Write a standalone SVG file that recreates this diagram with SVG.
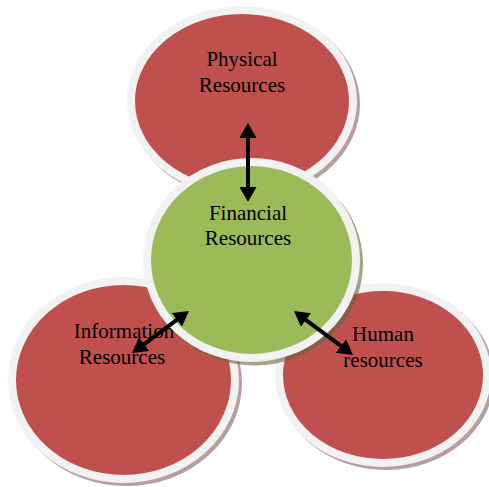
<svg xmlns="http://www.w3.org/2000/svg" width="489" height="487" viewBox="0 0 489 487">
<defs>
<style>
.shadow-r{fill:#a07e7e;opacity:0.75}
.shadow-g{fill:#6b6240;opacity:0.6}
.red{fill:#C0504D;stroke:#F2F2F2;stroke-width:8}
.green{fill:#9BBB59;stroke:#F2F2F2;stroke-width:8}
.lbl{font-family:"Liberation Serif","Times New Roman",serif;font-size:21px;fill:#000;text-anchor:middle}
.arr{stroke:#000;stroke-width:4;fill:none;marker-start:url(#ah);marker-end:url(#ah)}
</style>
<marker id="ah" viewBox="0 0 15 17" refX="2" refY="8.5" markerWidth="15" markerHeight="17" markerUnits="userSpaceOnUse" orient="auto-start-reverse">
<path d="M0,0 L15,8.5 L0,17 z" fill="#000"/>
</marker>
</defs>
<rect width="489" height="487" fill="#fff"/>
<g id="physical">
<ellipse class="shadow-r" cx="245" cy="104" rx="115" ry="95"/>
<ellipse class="red" cx="242" cy="101" rx="111" ry="91"/>
<text class="lbl" x="242" y="66">Physical</text>
<text class="lbl" x="242" y="92">Resources</text>
</g>
<g id="information">
<ellipse class="shadow-r" cx="126.5" cy="383" rx="115.5" ry="103"/>
<ellipse class="red" cx="123.5" cy="380" rx="111.5" ry="99"/>
<text class="lbl" x="124" y="338">Information</text>
<text class="lbl" x="122" y="364">Resources</text>
</g>
<g id="human">
<ellipse class="shadow-r" cx="386" cy="378" rx="108" ry="92"/>
<ellipse class="red" cx="383" cy="375" rx="104" ry="88"/>
<text class="lbl" x="383" y="341">Human</text>
<text class="lbl" x="383" y="367">resources</text>
</g>
<g id="financial">
<ellipse class="shadow-g" cx="254.5" cy="263.5" rx="108.5" ry="102"/>
<ellipse class="green" cx="251.5" cy="260" rx="104.5" ry="98"/>
<text class="lbl" x="248" y="220">Financial</text>
<text class="lbl" x="248" y="245">Resources</text>
</g>
<g id="connectors">
<line class="arr" x1="248" y1="136" x2="248" y2="189"/>
<line class="arr" x1="178.5" y1="318.7" x2="142.5" y2="345.3"/>
<line class="arr" x1="304.4" y1="318.8" x2="342.6" y2="347.2"/>
</g>
</svg>
